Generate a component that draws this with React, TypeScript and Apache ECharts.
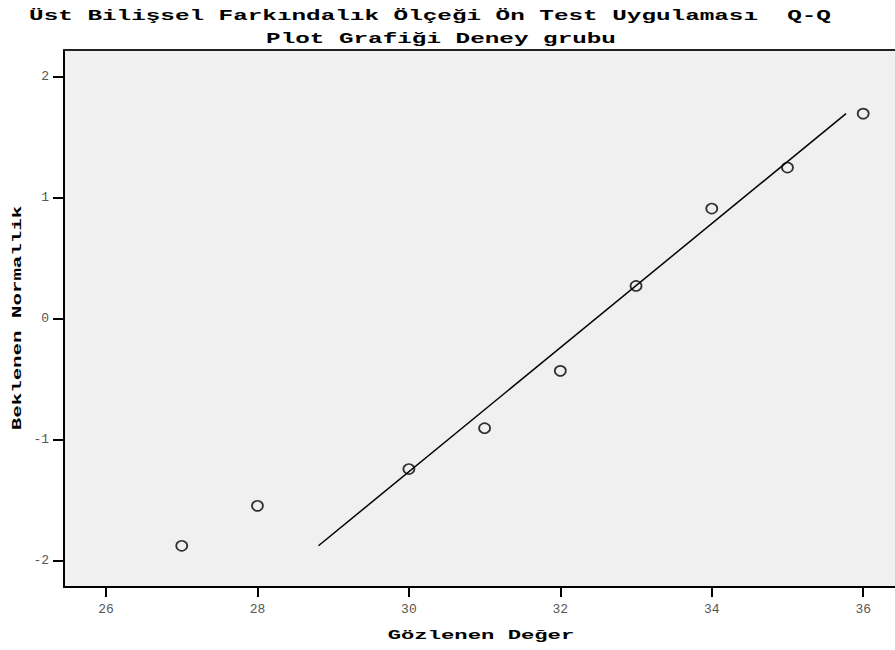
import React, { useEffect, useRef } from "react";
import * as echarts from "echarts";

// Observed scores and their expected normal values (Deney grubu)
const observedValues = [27, 28, 30, 31, 32, 33, 34, 35, 36];
const expectedNormal = [-1.879, -1.549, -1.245, -0.907, -0.433, 0.269, 0.909, 1.248, 1.694];

// Reference line: x = mean + sd * z
const sampleMean = 32.47;
const sampleSd = 1.95;

const xTicks = [26, 28, 30, 32, 34, 36];
const yTicks = [-2, -1, 0, 1, 2];

const titleLines = [
  "Üst Bilişsel Farkındalık Ölçeği Ön Test Uygulaması  Q-Q",
  "Plot Grafiği Deney grubu",
];
const xName = "Gözlenen Değer";
const yName = "Beklenen Normallik";

const MONO = '"Courier New", "Liberation Mono", "DejaVu Sans Mono", monospace';

const X_MIN = 25.445;
const X_MAX = 36.42;

export default function App() {
  const ref = useRef<HTMLDivElement>(null);

  useEffect(() => {
    if (!ref.current) return;
    const chart = echarts.init(ref.current, null, { renderer: "svg" });

    const points = observedValues.map((v, i) => [v, expectedNormal[i]]);
    const zMin = Math.min(...expectedNormal);
    const zMax = Math.max(...expectedNormal);
    const linePoints = [
      [sampleMean + sampleSd * zMin, zMin],
      [sampleMean + sampleSd * zMax, zMax],
    ];

    chart.setOption({
      animation: false,
      backgroundColor: "#ffffff",
      grid: {
        show: true,
        left: 64,
        top: 50,
        bottom: 63,
        right: 0,
        backgroundColor: "#f0f0f0",
        borderWidth: 0,
      },
      xAxis: [
        {
          type: "value",
          min: X_MIN,
          max: X_MAX,
          axisLine: { show: true, onZero: false, lineStyle: { color: "#000", width: 2 } },
          axisTick: {
            show: true,
            length: 10,
            customValues: xTicks,
            lineStyle: { color: "#000", width: 2 },
          },
          axisLabel: {
            customValues: xTicks,
            margin: 16,
            fontFamily: MONO,
            fontSize: 13,
            color: "#555",
          },
          splitLine: { show: false },
        },
        {
          // top frame line of the plot area
          type: "value",
          position: "top",
          min: X_MIN,
          max: X_MAX,
          axisLine: { show: true, onZero: false, lineStyle: { color: "#222", width: 2 } },
          axisTick: { show: false },
          axisLabel: { show: false },
          splitLine: { show: false },
        },
      ],
      yAxis: {
        type: "value",
        min: -2.22,
        max: 2.22,
        axisLine: { show: true, onZero: false, lineStyle: { color: "#000", width: 2 } },
        axisTick: {
          show: true,
          length: 11,
          customValues: yTicks,
          lineStyle: { color: "#000", width: 2 },
        },
        axisLabel: {
          customValues: yTicks,
          margin: 15,
          fontFamily: MONO,
          fontSize: 13,
          color: "#555",
        },
        splitLine: { show: false },
      },
      graphic: [
        {
          type: "text",
          x: 430,
          y: 16,
          scaleX: 1.62,
          style: {
            text: titleLines[0],
            x: 0,
            y: 0,
            align: "center",
            verticalAlign: "middle",
            font: `bold 15px ${MONO}`,
            fill: "#000",
          },
        },
        {
          type: "text",
          x: 441,
          y: 39,
          scaleX: 1.62,
          style: {
            text: titleLines[1],
            x: 0,
            y: 0,
            align: "center",
            verticalAlign: "middle",
            font: `bold 15px ${MONO}`,
            fill: "#000",
          },
        },
        {
          type: "text",
          x: 481,
          y: 635,
          scaleX: 1.71,
          style: {
            text: xName,
            x: 0,
            y: 0,
            align: "center",
            verticalAlign: "middle",
            font: `bold 13px ${MONO}`,
            fill: "#000",
          },
        },
        {
          type: "text",
          x: 18,
          y: 318,
          rotation: Math.PI / 2,
          scaleX: 1.6,
          style: {
            text: yName,
            x: 0,
            y: 0,
            align: "center",
            verticalAlign: "middle",
            font: `bold 13px ${MONO}`,
            fill: "#000",
          },
        },
      ],
      series: [
        {
          type: "line",
          data: linePoints,
          showSymbol: false,
          symbol: "none",
          lineStyle: { color: "#000", width: 1.5 },
          silent: true,
          z: 2,
        },
        {
          type: "scatter",
          data: points,
          symbol: "circle",
          symbolSize: [11, 10],
          itemStyle: { color: "transparent", borderColor: "#000", borderWidth: 1.7 },
          z: 3,
        },
      ],
    });

    return () => chart.dispose();
  }, []);

  return (
    <div
      ref={ref}
      style={{ position: "fixed", left: 0, top: 0, width: 895, height: 650 }}
    />
  );
}
